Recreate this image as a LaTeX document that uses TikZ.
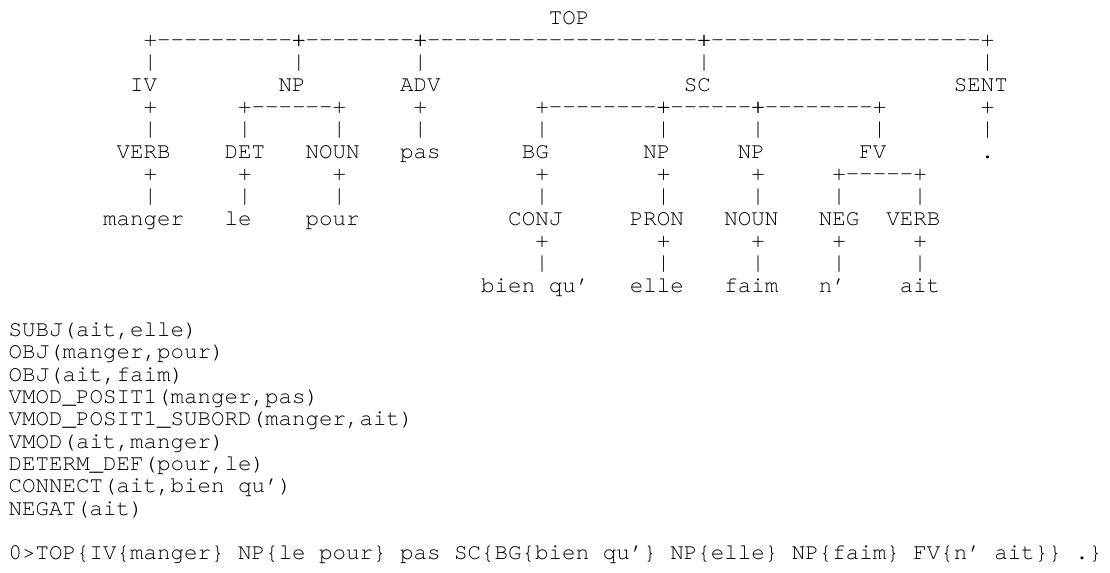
\documentclass[tikz,border=0pt]{standalone}
\usepackage{fontspec}
\newfontfamily\parsefont{texgyrecursor-regular.otf}
\usetikzlibrary{positioning}

% a character cell is 10.125pt wide, a text line 16.725pt high
\tikzset{
  cell/.style={inner sep=0pt, outer sep=0pt, anchor=base west,
    font=\parsefont\fontsize{16.875pt}{16.725pt}\selectfont},
  cat/.style={cell},
  word/.style={cell},
}

% + at both ends and dashes between: row, first col, last col
\newcommand{\treerule}[3]{%
  \node[cell] at (#2,#1) {+};
  \pgfmathtruncatemacro\rulea{#2+1}%
  \pgfmathtruncatemacro\ruleb{#3-1}%
  \foreach \c in {\rulea,...,\ruleb} \node[cell] at (\c,#1) {-};
  \node[cell] at (#3,#1) {+};}
% a plus or a pipe in each listed column of a row
\newcommand{\treeplus}[2]{\foreach \c in {#2} \node[cell] at (\c,#1) {+};}
\newcommand{\treepipe}[2]{\foreach \c in {#2} \node[cell] at (\c,#1) {|};}

\begin{document}
\begin{tikzpicture}[x=10.125pt, y=-16.725pt]
  \useasboundingbox (-0.644,-1.094) rectangle (81.57,24.556);

  % root
  \node[cat] (top) at (40,0) {TOP};
  \treerule{1}{10}{21} \treerule{1}{21}{30}
  \treerule{1}{30}{51} \treerule{1}{51}{72}
  \treepipe{2}{10,21,30,51,72}

  % first level
  \node[cat] (iv)   at (9,3)  {IV};
  \node[cat] (np)   at (20,3) {NP};
  \node[cat] (adv)  at (29,3) {ADV};
  \node[cat] (sc)   at (50,3) {SC};
  \node[cat] (sent) at (70,3) {SENT};
  \treeplus{4}{10,30,72}
  \treerule{4}{17}{24}
  \treerule{4}{39}{48} \treerule{4}{48}{55} \treerule{4}{55}{64}
  \treepipe{5}{10,17,24,30,39,48,55,64,72}

  % second level
  \node[cat]  (verb) at (8,6)  {VERB};
  \node[cat]  (det)  at (16,6) {DET};
  \node[cat]  (noun) at (22,6) {NOUN};
  \node[word] (pas)  at (29,6) {pas};
  \node[cat]  (bg)   at (38,6) {BG};
  \node[cat]  (npa)  at (47,6) {NP};
  \node[cat]  (npb)  at (54,6) {NP};
  \node[cat]  (fv)   at (63,6) {FV};
  \node[word] (dot)  at (72,6) {.};
  \treeplus{7}{10,17,24,39,48,55}
  \treerule{7}{61}{67}
  \treepipe{8}{10,17,24,39,48,55,61,67}

  % third level
  \node[word] (manger) at (7,9)  {manger};
  \node[word] (le)     at (16,9) {le};
  \node[word] (pour)   at (22,9) {pour};
  \node[cat]  (conj)   at (37,9) {CONJ};
  \node[cat]  (pron)   at (46,9) {PRON};
  \node[cat]  (nounb)  at (53,9) {NOUN};
  \node[cat]  (neg)    at (60,9) {NEG};
  \node[cat]  (verbb)  at (65,9) {VERB};
  \treeplus{10}{39,48,55,61,67}
  \treepipe{11}{39,48,55,61,67}

  % leaves
  \node[word] (bienqu) at (35,12) {bien qu’};
  \node[word] (elle)   at (46,12) {elle};
  \node[word] (faim)   at (53,12) {faim};
  \node[word] (ne)     at (60,12) {n’};
  \node[word] (ait)    at (66,12) {ait};

  % dependencies
  \foreach \dep [count=\i from 14] in {{SUBJ(ait,elle)}, {OBJ(manger,pour)},
      {OBJ(ait,faim)}, {VMOD\_POSIT1(manger,pas)},
      {VMOD\_POSIT1\_SUBORD(manger,ait)}, {VMOD(ait,manger)},
      {DETERM\_DEF(pour,le)}, {CONNECT(ait,bien qu’)}, {NEGAT(ait)}}
    \node[cell] (dep\i) at (0,\i) {\dep};

  % bracketed chunks
  \node[cell] (chunks) at (0,24)
    {0>TOP\{IV\{manger\} NP\{le pour\} pas SC\{BG\{bien qu’\} NP\{elle\} NP\{faim\} FV\{n’ ait\}\} .\}};
\end{tikzpicture}
\end{document}
